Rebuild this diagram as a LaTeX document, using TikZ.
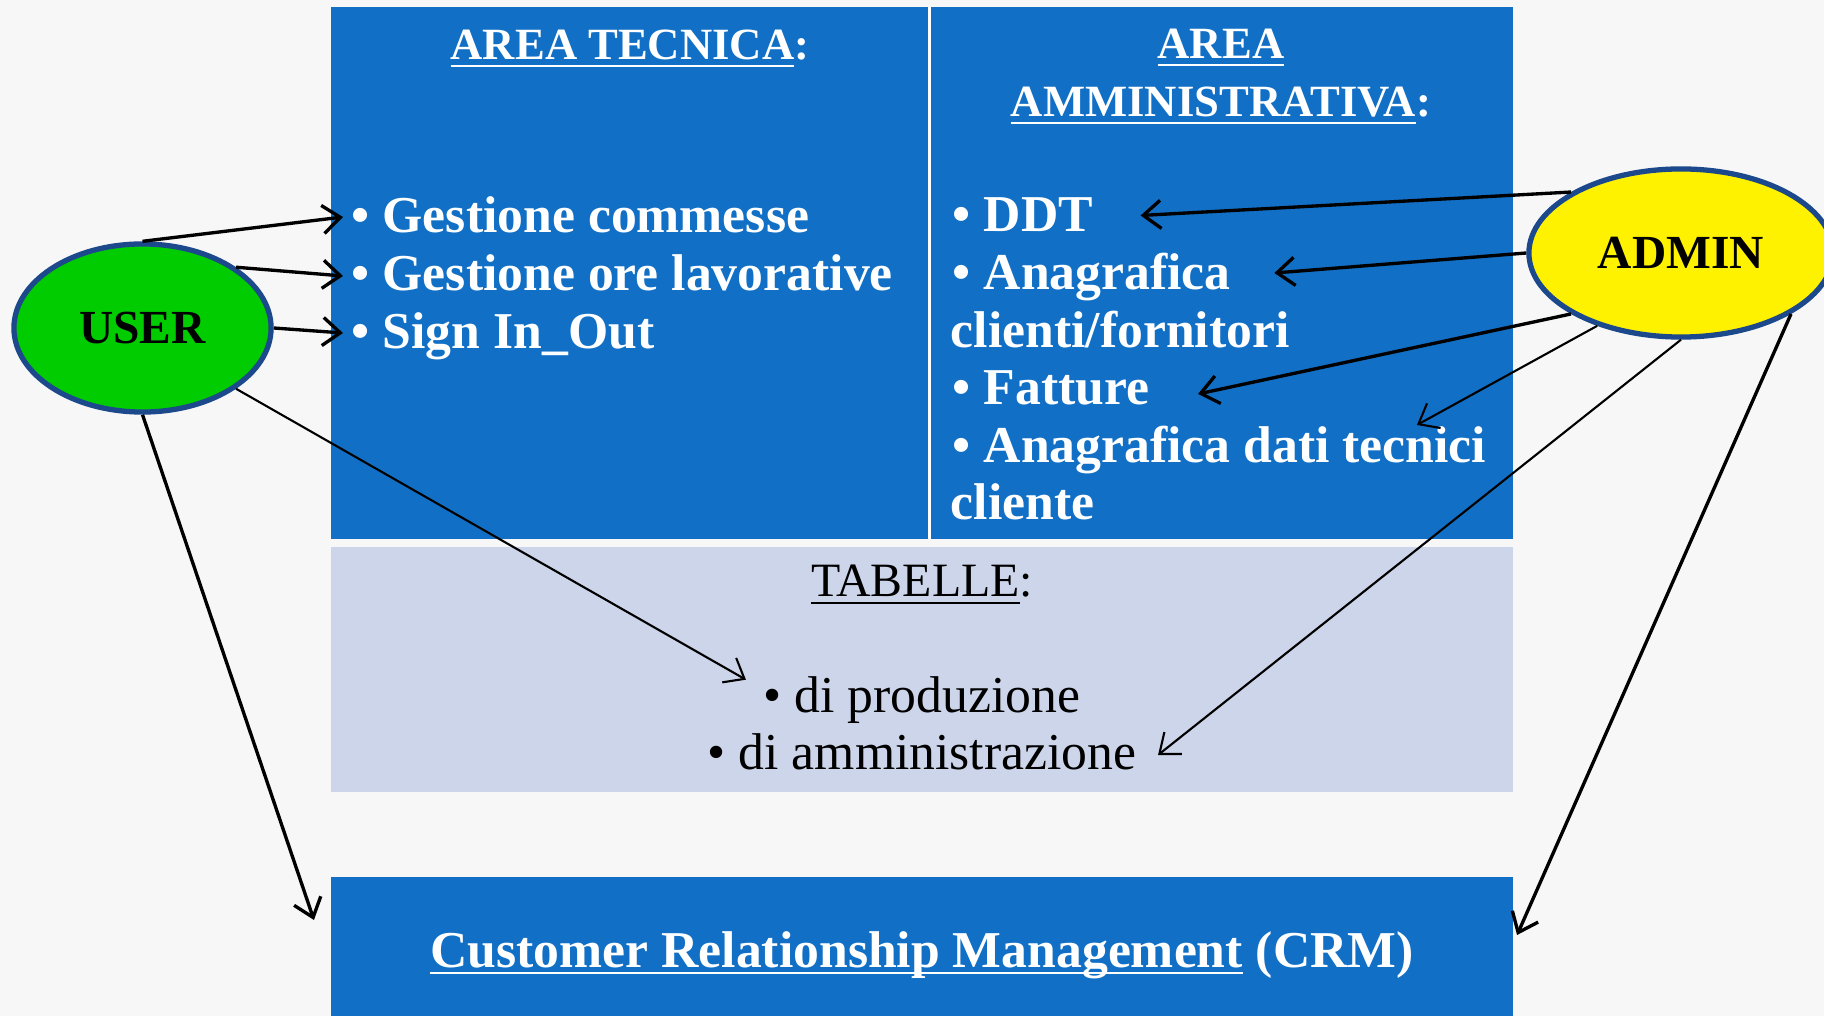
\documentclass[tikz,border=0pt]{standalone}
\usepackage{fontspec}
\setmainfont{Liberation Serif}
\usepackage{tikz}
\usetikzlibrary{arrows.meta,shapes.geometric}
\definecolor{bluebox}{RGB}{17,112,198}
\definecolor{greybox}{RGB}{205,213,234}
\definecolor{usergreen}{RGB}{0,204,0}
\definecolor{rim}{RGB}{28,72,140}
\definecolor{paper}{RGB}{247,247,247}
\newsavebox{\undlbox}
\newcommand{\undl}[1]{\sbox{\undlbox}{#1}\rlap{\vrule width\wd\undlbox height -1.3pt depth 1.9pt}\usebox{\undlbox}}

\begin{document}
\begin{tikzpicture}[x=0.01cm,y=-0.01cm,
	wl/.style={anchor=base west, inner sep=0pt, text=white, font=\bfseries\fontsize{14.7}{17}\selectfont},
	wt/.style={anchor=base, inner sep=0pt, text=white, font=\bfseries\fontsize{12.7}{15}\selectfont},
	bl/.style={anchor=base, inner sep=0pt, text=black, font=\fontsize{14.7}{17}\selectfont},
	actor/.style={ellipse, draw=rim, line width=1.5pt, inner sep=0pt, minimum height=1.68cm, font=\bfseries\fontsize{13.5}{16}\selectfont},
	arr/.style={-{Straight Barb[length=5pt,width=8pt]}, line width=0.95pt},
	arrthin/.style={arr, line width=0.6pt}]
	\useasboundingbox (0,0) rectangle (1824,1016);
	\clip (0,0) rectangle (1824,1016);
	\fill [paper] (0,0) rectangle (1824,1016);
	
	\fill [bluebox] (331,7) rectangle (1513,539);
	\draw [white, line width=0.85pt] (929.5,7) -- (929.5,539);
	\fill [greybox] (331,547) rectangle (1513,792);
	
	\node [wt] (tec) at (630,60) {\undl{AREA TECNICA}:};
	\node [wt] (amm1) at (1221,59) {\undl{AREA}};
	\node [wt] (amm2) at (1221,117) {\undl{AMMINISTRATIVA}:};
	
	\node [wl] (g1) at (351,233) {• Gestione commesse};
	\node [wl] (g2) at (351,291) {• Gestione ore lavorative};
	\node [wl] (g3) at (351,349) {• Sign In\_Out};
	
	\node [wl] (ddt) at (952,231.5) {• DDT};
	\node [wl] (ana) at (952,290) {• Anagrafica};
	\node [wl] (cf) at (950,348) {clienti/fornitori};
	\node [wl] (fat) at (952,405) {• Fatture};
	\node [wl] (dati) at (952,463) {• Anagrafica dati tecnici};
	\node [wl] (cli) at (950,520) {cliente};
	
	\node [bl, font=\fontsize{13.6}{16}\selectfont] (tab) at (922,597) {\undl{TABELLE}:};
	\node [bl] (prod) at (922,712.7) {• di produzione};
	\node [bl] (ammz) at (922,770) {• di amministrazione};
	
	\node [fill=bluebox, inner sep=0pt, minimum width=11.82cm, minimum height=1.56cm, text=white, font=\bfseries\fontsize{14.7}{17}\selectfont] (crm) at (922,955) {\undl{Customer Relationship Management} (CRM)};
	
	\node [actor, fill=usergreen, minimum width=2.57cm] (user) at (142.5,328) {USER};
	\node [actor, fill=yellow, minimum width=3.04cm] (admin) at (1681,253) {ADMIN};
	
	\draw [arr] (user.north) -- ([shift={(-8,-16)}]g1.base west);
	\draw [arr] (user.33) -- ([shift={(-8,-15)}]g2.base west);
	\draw [arr] (user.east) -- ([shift={(-8,-16)}]g3.base west);
	\draw [arrthin] (user.-33) -- ([shift={(-17,-33)}]prod.base west);
	\draw [arr] (user.south) -- ([shift={(-16,-35)}]crm.west);
	
	\draw [arr] (admin.151) -- ([shift={(47,-16)}]ddt.base east);
	\draw [arr] (admin.west) -- ([shift={(43,-17)}]ana.base east);
	\draw [arr] (admin.209) -- ([shift={(48,-11)}]fat.base east);
	\draw [arrthin] (admin.221) -- ([shift={(-70,-38)}]dati.base east);
	\draw [arrthin] (admin.south) -- ([shift={(21,-15)}]ammz.base east);
	\draw [arr] (admin.-29) -- ([shift={(3,-20)}]crm.east);
\end{tikzpicture}
\end{document}
